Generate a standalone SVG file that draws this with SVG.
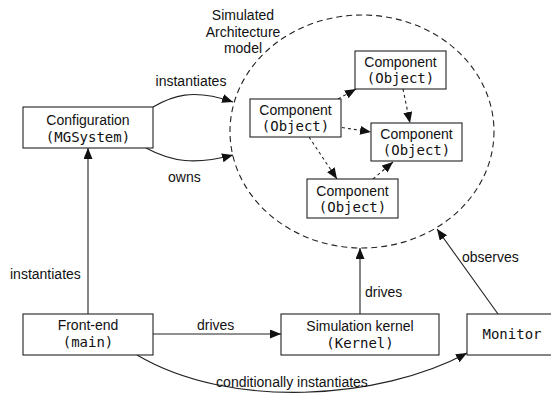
<svg xmlns="http://www.w3.org/2000/svg" width="551" height="394" viewBox="0 0 551 394">
  <style>
    .box { fill: #fff; stroke: #222; stroke-width: 1.1; }
    .sans { font-family: "Liberation Sans", Arial, sans-serif; font-size: 14px; fill: #111; }
    .mono { font-family: "DejaVu Sans Mono", "Liberation Mono", monospace; font-size: 14px; fill: #111; }
    .mid { text-anchor: middle; }
    .edge { fill: none; stroke: #222; stroke-width: 1.1; }
    .dash { fill: none; stroke: #222; stroke-width: 1.1; stroke-dasharray: 3 3; }
    .cloud { fill: none; stroke: #222; stroke-width: 1.1; stroke-dasharray: 6 4; }
  </style>
  <defs>
    <marker id="arrow" markerUnits="userSpaceOnUse" markerWidth="12" markerHeight="10" refX="11" refY="4.5" orient="auto">
      <path d="M0,0 L11,4.5 L0,9 z" fill="#111"/>
    </marker>
  </defs>
  <rect width="551" height="394" fill="#fff"/>

  <!-- simulated architecture boundary -->
  <g id="model">
    <ellipse class="cloud" cx="362" cy="131.5" rx="132" ry="116.5"/>
    <text class="sans mid" x="243" y="20">Simulated</text>
    <text class="sans mid" x="243" y="37">Architecture</text>
    <text class="sans mid" x="243" y="53">model</text>
  </g>

  <!-- connectors -->
  <g id="connectors">
    <path class="edge" d="M153,107 C172,96 192,88 233,102" marker-end="url(#arrow)"/>
    <text class="sans mid" x="191" y="86">instantiates</text>
    <path class="edge" d="M146,148 C172,162 195,165 233,155" marker-end="url(#arrow)"/>
    <text class="sans" x="168" y="182">owns</text>

    <path class="edge" d="M88,314 L88,148" marker-end="url(#arrow)"/>
    <text class="sans" x="10" y="279">instantiates</text>

    <path class="edge" d="M153,334 L281,334" marker-end="url(#arrow)"/>
    <text class="sans" x="197" y="330">drives</text>

    <path class="edge" d="M360,314 L360,248" marker-end="url(#arrow)"/>
    <text class="sans" x="365" y="297">drives</text>

    <path class="edge" d="M498,314 L437,229" marker-end="url(#arrow)"/>
    <text class="sans" x="462" y="262">observes</text>

    <path class="edge" d="M137,355 C230,410 380,400 467,353" marker-end="url(#arrow)"/>
    <text class="sans mid" x="292" y="387">conditionally instantiates</text>

    <path class="dash" d="M338,99 L356,89" marker-end="url(#arrow)"/>
    <path class="dash" d="M403,89 L410,123" marker-end="url(#arrow)"/>
    <path class="dash" d="M342,127.5 L371,132" marker-end="url(#arrow)"/>
    <path class="dash" d="M309,137 L337,179" marker-end="url(#arrow)"/>
    <path class="dash" d="M373,179 L393,162" marker-end="url(#arrow)"/>
  </g>

  <g id="configuration">
    <rect class="box" x="23" y="107" width="130" height="41"/>
    <text class="sans mid" x="88" y="125">Configuration</text>
    <text class="mono mid" x="88" y="142">(MGSystem)</text>
  </g>

  <g id="component-a">
    <rect class="box" x="250" y="99" width="91" height="38"/>
    <text class="sans mid" x="295.5" y="115">Component</text>
    <text class="mono mid" x="295.5" y="131">(Object)</text>
  </g>
  <g id="component-b">
    <rect class="box" x="355" y="51" width="91" height="38"/>
    <text class="sans mid" x="400.5" y="67">Component</text>
    <text class="mono mid" x="400.5" y="83">(Object)</text>
  </g>
  <g id="component-c">
    <rect class="box" x="371" y="123" width="91" height="38"/>
    <text class="sans mid" x="416.5" y="139">Component</text>
    <text class="mono mid" x="416.5" y="155">(Object)</text>
  </g>
  <g id="component-d">
    <rect class="box" x="307" y="179" width="91" height="39"/>
    <text class="sans mid" x="352.5" y="196">Component</text>
    <text class="mono mid" x="352.5" y="212">(Object)</text>
  </g>

  <g id="front-end">
    <rect class="box" x="23" y="314" width="130" height="41"/>
    <text class="sans mid" x="88" y="330">Front-end</text>
    <text class="mono mid" x="88" y="347">(main)</text>
  </g>

  <g id="kernel">
    <rect class="box" x="281" y="314" width="158" height="41"/>
    <text class="sans mid" x="360" y="331">Simulation kernel</text>
    <text class="mono mid" x="360" y="348">(Kernel)</text>
  </g>

  <g id="monitor">
    <rect class="box" x="467" y="314" width="90" height="41"/>
    <text class="mono mid" x="512" y="339">Monitor</text>
  </g>
</svg>
